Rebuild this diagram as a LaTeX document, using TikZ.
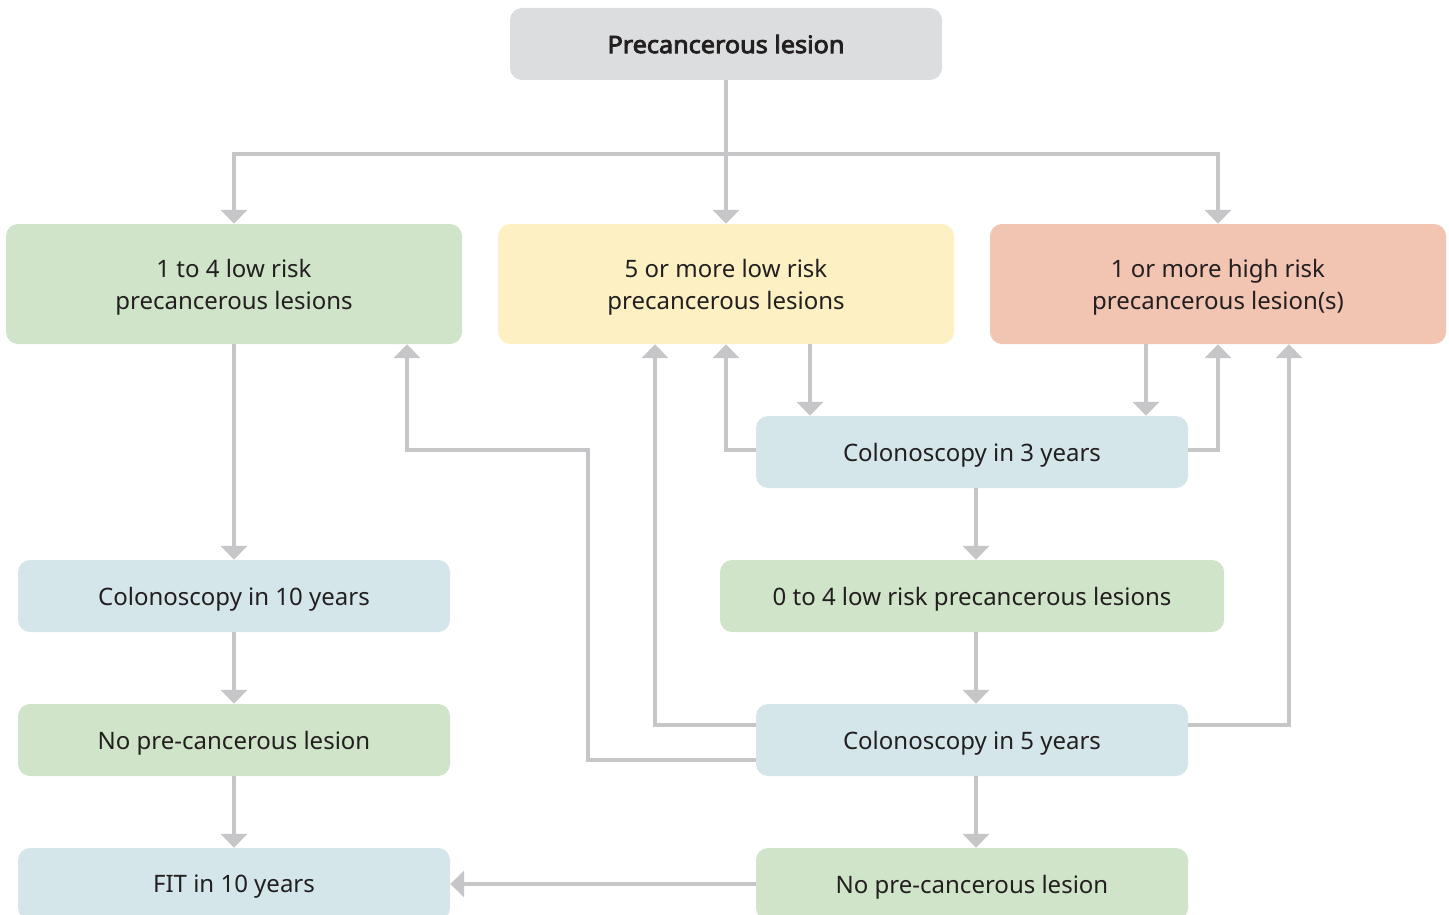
\documentclass[tikz,border=0pt]{standalone}
\usepackage{fontspec}
\setmainfont{Noto Sans}[BoldFont={Noto Sans}, BoldFeatures={FakeBold=3.5, FakeStretch=1.05}]
\usepackage{xcolor}
\usepackage{tikz}
\usetikzlibrary{arrows.meta, positioning}

\definecolor{lineGrey}{HTML}{C6C6C8}
\definecolor{textDark}{HTML}{231F20}
\definecolor{boxGrey}{HTML}{DCDDDF}
\definecolor{boxGreen}{HTML}{CFE4C8}
\definecolor{boxYellow}{HTML}{FDF1C4}
\definecolor{boxSalmon}{HTML}{F2C4B2}
\definecolor{boxBlue}{HTML}{D4E6EA}

\begin{document}
\begin{tikzpicture}[
      x=1pt, y=-1pt,
      every node/.style={rounded corners=12pt, align=center, inner sep=0pt,
        text depth=0pt, text=textDark, font=\fontsize{24}{32}\selectfont},
      wide/.style={minimum width=456pt, minimum height=120pt},
      slim/.style={minimum width=432pt, minimum height=72pt},
      conn/.style={draw=lineGrey, line width=4pt, -{Triangle[width=26pt, length=14pt]}}
    ]
      \useasboundingbox (0,0) rectangle (1449,915);

      % boxes
      \node[slim, fill=boxGrey, font=\fontsize{24}{32}\selectfont\bfseries] (top) at (726,44) {Precancerous lesion};
      \node[wide, fill=boxGreen] (low) at (234,284) {1 to 4 low risk\\precancerous lesions};
      \node[wide, fill=boxYellow] (mid) at (726,284) {5 or more low risk\\precancerous lesions};
      \node[wide, fill=boxSalmon] (high) at (1218,284) {1 or more high risk\\precancerous lesion(s)};
      \node[slim, fill=boxBlue] (c3) at (972,452) {Colonoscopy in 3 years};
      \node[slim, minimum width=504pt, fill=boxGreen] (zero) at (972,596) {0 to 4 low risk precancerous lesions};
      \node[slim, fill=boxBlue] (c5) at (972,740) {Colonoscopy in 5 years};
      \node[slim, fill=boxGreen] (noneR) at (972,884) {No pre-cancerous lesion};
      \node[slim, fill=boxBlue] (c10) at (234,596) {Colonoscopy in 10 years};
      \node[slim, fill=boxGreen] (noneL) at (234,740) {No pre-cancerous lesion};
      \node[slim, fill=boxBlue] (fit) at (234,884) {FIT in 10 years};

      \coordinate (split) at (726,154);
      \coordinate (bend) at (588,450);

      % connectors
      \draw[conn] (top) -- (mid);
      \draw[conn] (split) -| (low);
      \draw[conn] (split) -| (high);
      \draw[conn] (low) -- (c10);
      \draw[conn] (c10) -- (noneL);
      \draw[conn] (noneL) -- (fit);
      \draw[conn] ([xshift=84pt]mid.south) -- ([xshift=-162pt]c3.north);
      \draw[conn] ([xshift=-72pt]high.south) -- ([xshift=174pt]c3.north);
      \draw[conn] ([yshift=2pt]c3.west) -| (mid.south);
      \draw[conn] ([yshift=2pt]c3.east) -| (high.south);
      \draw[conn] ([xshift=4pt]c3.south) -- ([xshift=4pt]zero.north);
      \draw[conn] ([xshift=4pt]zero.south) -- ([xshift=4pt]c5.north);
      \draw[conn] ([yshift=15pt]c5.west) -| ([xshift=-71pt]mid.south);
      \draw[conn] ([yshift=-20pt]c5.west) -| (bend) -| ([xshift=173pt]low.south);
      \draw[conn] ([yshift=15pt]c5.east) -| ([xshift=71pt]high.south);
      \draw[conn] ([xshift=4pt]c5.south) -- ([xshift=4pt]noneR.north);
      \draw[conn] (noneR) -- (fit);
    \end{tikzpicture}
\end{document}
